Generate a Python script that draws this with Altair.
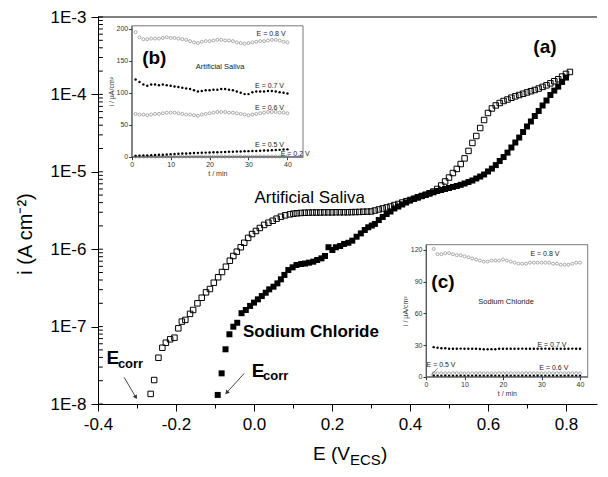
import altair as alt
import pandas as pd

FONT = "Liberation Sans"

# ---------------- main polarization curves (E in V vs ECS, i in A cm^-2) ----------------
sal_E = [-0.265, -0.256, -0.245, -0.235, -0.226, -0.215, -0.204, -0.194, -0.185, -0.176,
         -0.164, -0.156, -0.145, -0.134, -0.123, -0.113, -0.103, -0.092, -0.082, -0.072,
         -0.062, -0.053, -0.044, -0.034, -0.025, -0.015, -0.005, 0.005, 0.015, 0.026,
         0.037, 0.048, 0.058, 0.069, 0.080, 0.092, 0.101,
         0.11, 0.12, 0.13, 0.14, 0.15, 0.16, 0.17, 0.18, 0.19, 0.20,
         0.21, 0.22, 0.23, 0.24, 0.25, 0.26, 0.27, 0.28, 0.29,
         0.30, 0.31, 0.32, 0.33, 0.34, 0.35, 0.36, 0.37, 0.38, 0.39,
         0.40, 0.41, 0.42, 0.43, 0.44, 0.45, 0.46, 0.47, 0.48, 0.49,
         0.50, 0.51, 0.52, 0.53, 0.54, 0.55, 0.56, 0.57, 0.58, 0.59,
         0.60, 0.61, 0.62, 0.63, 0.64, 0.65, 0.66, 0.67, 0.68, 0.69,
         0.70, 0.71, 0.72, 0.73, 0.74, 0.75, 0.76, 0.77, 0.78, 0.79,
         0.80, 0.81]
sal_i = [1.35e-8, 2.04e-8, 3.96e-8, 5.33e-8, 6.19e-8, 6.85e-8, 7.19e-8, 9.5e-8, 1.16e-7, 1.22e-7,
         1.46e-7, 1.64e-7, 2.0e-7, 2.36e-7, 2.77e-7, 3.06e-7, 3.69e-7, 4.34e-7, 5.07e-7, 5.94e-7,
         7.1e-7, 8.17e-7, 9.29e-7, 1.06e-6, 1.21e-6, 1.40e-6, 1.57e-6, 1.72e-6, 1.88e-6, 2.06e-6,
         2.2e-6, 2.33e-6, 2.48e-6, 2.63e-6, 2.74e-6, 2.82e-6, 2.88e-6,
         2.91e-6, 2.94e-6, 2.96e-6, 2.97e-6, 2.98e-6, 2.98e-6, 2.98e-6, 2.99e-6, 2.99e-6, 2.99e-6,
         3.0e-6, 3.0e-6, 3.0e-6, 3.0e-6, 3.01e-6, 3.02e-6, 3.03e-6, 3.05e-6, 3.06e-6,
         3.07e-6, 3.16e-6, 3.26e-6, 3.36e-6, 3.46e-6, 3.56e-6, 3.72e-6, 3.84e-6, 4.01e-6, 4.16e-6,
         4.32e-6, 4.49e-6, 4.69e-6, 4.87e-6, 5.06e-6, 5.27e-6, 5.56e-6, 6.0e-6, 6.65e-6, 7.5e-6,
         8.43e-6, 9.64e-6, 1.09e-5, 1.26e-5, 1.49e-5, 1.86e-5, 2.36e-5, 2.9e-5, 3.68e-5, 4.67e-5,
         5.75e-5, 6.58e-5, 7.2e-5, 7.74e-5, 8.22e-5, 8.59e-5, 9.06e-5, 9.44e-5, 9.82e-5, 1.02e-4,
         1.06e-4, 1.10e-4, 1.14e-4, 1.19e-4, 1.25e-4, 1.31e-4, 1.39e-4, 1.48e-4, 1.57e-4, 1.70e-4,
         1.84e-4, 1.95e-4]

nacl_E = [-0.093, -0.083, -0.073, -0.063, -0.053, -0.043, -0.032, -0.021, -0.010, 0.000,
          0.010, 0.020, 0.030, 0.039, 0.050, 0.060, 0.069, 0.078, 0.088, 0.099,
          0.109, 0.121, 0.131, 0.141, 0.152, 0.162, 0.173, 0.182, 0.191, 0.201,
          0.210, 0.221, 0.231, 0.242, 0.252, 0.263, 0.274, 0.284, 0.293, 0.302,
          0.31, 0.32, 0.33, 0.34, 0.35, 0.36, 0.37, 0.38, 0.39, 0.40,
          0.41, 0.42, 0.43, 0.44, 0.45, 0.46, 0.47, 0.48, 0.49, 0.50,
          0.51, 0.52, 0.53, 0.54, 0.55, 0.56, 0.57, 0.58, 0.59, 0.60,
          0.61, 0.62, 0.63, 0.64, 0.65, 0.66, 0.67, 0.68, 0.69, 0.70,
          0.71, 0.72, 0.73, 0.74, 0.75, 0.76, 0.77, 0.78, 0.79, 0.80]
nacl_i = [1.31e-8, 2.49e-8, 5.09e-8, 7.96e-8, 9.97e-8, 1.12e-7, 1.49e-7, 1.64e-7, 1.85e-7, 2.04e-7,
          2.25e-7, 2.48e-7, 2.74e-7, 3.03e-7, 3.28e-7, 3.62e-7, 4.08e-7, 4.65e-7, 5.38e-7, 5.83e-7,
          6.25e-7, 6.44e-7, 6.53e-7, 6.7e-7, 6.9e-7, 7.25e-7, 7.62e-7, 8.17e-7, 1.06e-6, 9.77e-7,
          1.06e-6, 1.10e-6, 1.17e-6, 1.21e-6, 1.29e-6, 1.45e-6, 1.60e-6, 1.77e-6, 1.92e-6, 2.02e-6,
          2.12e-6, 2.38e-6, 2.61e-6, 2.85e-6, 3.07e-6, 3.36e-6, 3.56e-6, 3.78e-6, 4.01e-6, 4.26e-6,
          4.46e-6, 4.66e-6, 4.87e-6, 5.01e-6, 5.25e-6, 5.43e-6, 5.65e-6, 5.82e-6, 6.0e-6, 6.18e-6,
          6.37e-6, 6.56e-6, 6.79e-6, 7.06e-6, 7.38e-6, 7.72e-6, 8.19e-6, 8.69e-6, 9.23e-6, 1.01e-5,
          1.10e-5, 1.22e-5, 1.38e-5, 1.55e-5, 1.77e-5, 2.06e-5, 2.39e-5, 2.77e-5, 3.27e-5, 3.85e-5,
          4.47e-5, 5.26e-5, 6.11e-5, 7.19e-5, 8.34e-5, 9.82e-5, 1.12e-4, 1.26e-4, 1.45e-4, 1.65e-4]

# ---------------- inset (b): Artificial Saliva, i (uA/cm2) vs t (min) ----------------
tb = [1, 2, 3, 4, 5, 6, 7, 8, 9, 10, 11, 12, 13, 14, 15, 16, 17, 18, 19, 20,
      21, 22, 23, 24, 25, 26, 27, 28, 29, 30, 31, 32, 33, 34, 35, 36, 37, 38, 39, 40]
b_08 = [195, 187, 184, 184, 185, 185, 185, 186, 187, 186, 186, 185, 184, 183, 181, 179, 178, 180, 181, 181,
        182, 183, 183, 182, 182, 181, 179, 178, 177, 178, 179, 180, 181, 181, 182, 183, 183, 182, 180, 179]
b_07 = [121, 117, 113, 111, 113, 113, 112, 113, 112, 111, 110, 109, 108, 107, 106, 104, 102, 103, 104, 104,
        105, 105, 106, 106, 105, 104, 102, 100, 98, 98, 101, 102, 102, 102, 103, 103, 102, 101, 100, 99]
b_06 = [67, 66, 66, 65, 66, 67, 67, 68, 69, 69, 69, 68, 67, 66, 66, 65, 64, 66, 67, 68,
        69, 70, 70, 70, 69, 69, 68, 67, 66, 65, 66, 67, 68, 69, 70, 70, 70, 69, 69, 68]
b_05 = [1.0, 1.4, 1.8, 2.0, 2.3, 2.7, 3.0, 3.2, 3.6, 4.0, 4.2, 4.6, 5.0, 5.1, 5.5, 5.8, 6.0, 6.1, 6.4, 6.6,
        6.9, 7.0, 7.2, 7.5, 7.6, 7.8, 8.1, 8.2, 8.4, 8.7, 8.8, 9.0, 9.4, 9.6, 9.8, 10.2, 10.5, 10.7, 11.2, 11.5]
b_02 = [0.4, 0.4, 0.3, 0.4, 0.3, 0.3, 0.4, 0.3, 0.3, 0.4, 0.3, 0.3, 0.4, 0.3, 0.3, 0.3, 0.4, 0.3, 0.3, 0.4,
        0.3, 0.3, 0.4, 0.3, 0.3, 0.3, 0.4, 0.3, 0.3, 0.4, 0.3, 0.3, 0.4, 0.3, 0.3, 0.3, 0.4, 0.3, 0.3, 0.4]

# ---------------- inset (c): Sodium Chloride ----------------
tc = [2, 3, 4, 5, 6, 7, 8, 9, 10, 11, 12, 13, 14, 15, 16, 17, 18, 19, 20, 21,
      22, 23, 24, 25, 26, 27, 28, 29, 30, 31, 32, 33, 34, 35, 36, 37, 38, 39, 40]
c_08 = [121, 116, 116, 117, 117, 116, 115, 115, 114, 113, 112, 111, 110, 109, 109, 110, 110, 110, 111, 110,
        109, 108, 107, 107, 107, 108, 108, 108, 108, 108, 108, 107, 107, 106, 106, 106, 107, 108, 108]
c_07 = [28.0, 27.5, 27.0, 27.0, 26.5, 26.5, 26.5, 26.6, 26.5, 26.4, 26.5, 26.5, 26.3, 26.0, 26.0, 26.1, 26.0, 26.4, 26.5, 26.5,
        26.5, 26.4, 26.5, 26.6, 26.5, 26.5, 26.4, 26.5, 26.5, 26.6, 26.5, 26.5, 26.4, 26.5, 26.5, 26.5, 26.6, 26.5, 26.5]
c_06 = [3.3, 3.4, 3.3, 3.3, 3.2, 3.3, 3.4, 3.3, 3.3, 3.2, 3.3, 3.3, 3.4, 3.3, 3.3, 3.2, 3.3, 3.3, 3.4, 3.3,
        3.3, 3.2, 3.3, 3.3, 3.4, 3.3, 3.3, 3.2, 3.3, 3.3, 3.4, 3.3, 3.3, 3.2, 3.3, 3.3, 3.4, 3.3, 3.3]
c_05 = [0.9, 0.8, 0.8, 0.9, 0.8, 0.8, 0.8, 0.9, 0.8, 0.8, 0.8, 0.9, 0.8, 0.8, 0.8, 0.9, 0.8, 0.8, 0.8, 0.9,
        0.8, 0.8, 0.8, 0.9, 0.8, 0.8, 0.8, 0.9, 0.8, 0.8, 0.8, 0.9, 0.8, 0.8, 0.8, 0.9, 0.8, 0.8, 0.8]

# axis tick positions
x_ticks = [-0.4, -0.3, -0.2, -0.1, 0.0, 0.1, 0.2, 0.3, 0.4, 0.5, 0.6, 0.7, 0.8]
y_ticks = [m * 10.0 ** e for e in range(-8, -3) for m in range(1, 10)] + [1e-3]

# ---------------- layout ----------------
W, H = 499, 387
one = pd.DataFrame({"k": [0]})

xs = alt.Scale(domain=[-0.4, 0.8795], nice=False, zero=False)
ys = alt.Scale(type="log", domain=[1e-8, 1e-3], nice=False)

XMAJ = "abs(datum.value*5 - round(datum.value*5)) < 0.001"
YMAJ = "abs(log(datum.value)/LN10 - round(log(datum.value)/LN10)) < 0.001"

x_axis = alt.Axis(
    orient="bottom", values=x_ticks, title=None, grid=False,
    labelExpr=XMAJ + " ? replace(format(datum.value, '.1f'), '\u2212', '-') : ''",
    tickSize={"condition": {"test": XMAJ, "value": 7}, "value": 4},
    labelFont=FONT, labelFontSize=17, labelColor="black", tickColor="black",
    domainColor="black", labelPadding=5, labelOverlap=False, labelFlush=False,
)
y_axis = alt.Axis(
    orient="left", values=y_ticks, title=None, grid=False,
    labelExpr=YMAJ + " ? '1E' + round(log(datum.value)/LN10) : ''",
    tickSize={"condition": {"test": YMAJ, "value": 7}, "value": 0},
    labelFont=FONT, labelFontSize=17, labelColor="black", tickColor="black",
    domainColor="black", labelPadding=5, labelOverlap=False, labelFlush=False,
)

X = alt.X("E:Q", scale=xs, axis=x_axis)
Y = alt.Y("i:Q", scale=ys, axis=y_axis)

sal_df = pd.DataFrame({"E": sal_E, "i": sal_i})
nacl_df = pd.DataFrame({"E": nacl_E, "i": nacl_i})

sal = alt.Chart(sal_df).mark_point(shape="square", filled=False, color="black",
                                   size=30, strokeWidth=1, opacity=1).encode(x=X, y=Y)
nacl = alt.Chart(nacl_df).mark_point(shape="square", filled=True, color="black",
                                     size=36, opacity=1).encode(x=X, y=Y)

top_rule = alt.Chart(one).mark_rule(color="black", strokeWidth=1).encode(y=alt.datum(1e-3))

# inward-pointing ticks along the left axis (Origin style)
tick_df = pd.DataFrame({"i": y_ticks})
inner_ticks = alt.Chart(tick_df).mark_rule(color="black", strokeWidth=1).encode(
    x=alt.datum(-0.4), x2=alt.datum(-0.3875), y=alt.Y("i:Q", scale=ys, axis=y_axis))


def txt(label, e, i, size, bold=False, align="center", baseline="middle"):
    return alt.Chart(one).mark_text(
        text=label, font=FONT, fontSize=size, fontWeight="bold" if bold else "normal",
        align=align, baseline=baseline, color="black",
    ).encode(x=alt.datum(e), y=alt.datum(i))


def arrow(e1, i1, e2, i2, ang):
    line = alt.Chart(one).mark_rule(color="#333", strokeWidth=0.9).encode(
        x=alt.datum(e1), y=alt.datum(i1), x2=alt.datum(e2), y2=alt.datum(i2))
    head = alt.Chart(one).mark_point(shape="triangle-up", filled=True, color="#333",
                                     size=22, angle=ang, opacity=1).encode(
        x=alt.datum(e2), y=alt.datum(i2))
    return [line, head]


main_ann = [
    txt("(a)", 0.746, 4.09e-4, 19, bold=True),
    txt("Artificial Saliva", 0.143, 4.6e-6, 17),
    txt("Sodium Chloride", 0.146, 8.5e-8, 17, bold=True),
    txt("E", -0.378, 3.89e-8, 19, bold=True, align="left"),
    txt("corr", -0.349, 3.25e-8, 13, bold=True, align="left"),
    txt("E", -0.006, 2.69e-8, 19, bold=True, align="left"),
    txt("corr", 0.023, 2.28e-8, 13, bold=True, align="left"),
] + arrow(-0.333, 2.21e-8, -0.303, 1.22e-8, 150) + arrow(-0.025, 2.49e-8, -0.070, 1.40e-8, 222)

axis_titles = [
    alt.Chart(one).mark_text(text="E (V", font=FONT, fontSize=19, align="left",
                             baseline="alphabetic").encode(x=alt.value(215), y=alt.value(443)),
    alt.Chart(one).mark_text(text="ECS", font=FONT, fontSize=15, align="left",
                             baseline="alphabetic").encode(x=alt.value(252), y=alt.value(448)),
    alt.Chart(one).mark_text(text=")", font=FONT, fontSize=19, align="left",
                             baseline="alphabetic").encode(x=alt.value(283), y=alt.value(443)),
    alt.Chart(one).mark_text(text="i (A cm\u207b\u00b2)", font=FONT, fontSize=20, angle=270,
                             align="center", baseline="middle").encode(x=alt.value(-72), y=alt.value(217)),
]

main = alt.layer(sal, nacl, top_rule, inner_ticks, *main_ann, *axis_titles)

# ---------------- insets ----------------
INS = "#333333"


def inset_axes(xdom, xrange, ydom, yrange, xvals, yvals):
    xo = -(H - yrange[0])
    yo = -xrange[0]
    xa = alt.Axis(orient="bottom", offset=xo, values=xvals, title="t / min", grid=False,
                  labelFont=FONT, labelFontSize=7, labelColor=INS, labelPadding=1,
                  titleFont=FONT, titleFontSize=7, titleFontWeight="normal", titleColor=INS,
                  titlePadding=2, tickSize=3, tickColor=INS, domainColor=INS, domainWidth=0.8,
                  labelFlush=False)
    ya = alt.Axis(orient="left", offset=yo, values=yvals, title="i / \u00b5A/cm\u00b2", grid=False,
                  labelFont=FONT, labelFontSize=7, labelColor=INS, labelPadding=1,
                  titleFont=FONT, titleFontSize=7, titleFontWeight="normal", titleColor=INS,
                  titlePadding=2, tickSize=3, tickColor=INS, domainColor=INS, domainWidth=0.8,
                  labelFlush=False)
    sx = alt.Scale(domain=xdom, range=xrange, nice=False, zero=False)
    sy = alt.Scale(domain=ydom, range=yrange, nice=False, zero=False)
    return alt.X("t:Q", scale=sx, axis=xa), alt.Y("v:Q", scale=sy, axis=ya)


def series(t, v, Xi, Yi, open_):
    df = pd.DataFrame({"t": t, "v": v})
    if open_:
        m = alt.Chart(df).mark_point(shape="circle", filled=False, color="#8a8a8a",
                                     size=9, strokeWidth=0.7, opacity=1)
    else:
        m = alt.Chart(df).mark_point(shape="circle", filled=True, color="black",
                                     size=6, opacity=1)
    return m.encode(x=Xi, y=Yi)


def itxt(label, t, v, size=7, bold=False):
    return alt.Chart(one).mark_text(
        text=label, font=FONT, fontSize=size, fontWeight="bold" if bold else "normal",
        align="center", baseline="middle", color="#222" if not bold else "black",
    ).encode(x=alt.datum(t), y=alt.datum(v))


def frame(x0, x1, y0, y1):
    return alt.Chart(one).mark_rect(fillOpacity=0, stroke="#555", strokeWidth=0.8).encode(
        x=alt.datum(x0), x2=alt.datum(x1), y=alt.datum(y0), y2=alt.datum(y1))


Xb, Yb = inset_axes([0, 44], [33.7, 205.0], [0, 205], [139.7, 8.8],
                    [0, 10, 20, 30, 40], [0, 50, 100, 150, 200])
inset_b = alt.layer(
    series(tb, b_08, Xb, Yb, True),
    series(tb, b_07, Xb, Yb, False),
    series(tb, b_06, Xb, Yb, True),
    series(tb, b_02, Xb, Yb, True),
    series(tb, b_05, Xb, Yb, False),
    frame(0, 44, 0, 205),
    itxt("E = 0.8 V", 35.8, 192),
    itxt("(b)", 5.8, 155, size=19, bold=True),
    itxt("Artificial Saliva", 22.7, 140, size=7.5),
    itxt("E = 0.7 V", 35.4, 110.6),
    itxt("E = 0.6 V", 35.4, 76.3),
    itxt("E = 0.5 V", 35.4, 18.3),
    itxt("E = 0.2 V", 42.0, 4.4),
)

Xc, Yc = inset_axes([0, 42], [328.0, 489.7], [0, 125], [359.7, 227.7],
                    [0, 10, 20, 30, 40], [0, 30, 60, 90, 120])
inset_c = alt.layer(
    series(tc, c_08, Xc, Yc, True),
    series(tc, c_07, Xc, Yc, False),
    series(tc, c_06, Xc, Yc, True),
    series(tc, c_05, Xc, Yc, False),
    frame(0, 42, 0, 125),
    itxt("E = 0.8 V", 30.9, 115.9),
    itxt("(c)", 4.4, 90, size=19, bold=True),
    itxt("Sodium Chloride", 20.8, 71, size=7.5),
    itxt("E = 0.7 V", 32.7, 30.2),
    itxt("E = 0.6 V", 33.2, 8.3),
    itxt("E = 0.5 V", 3.9, 11.5),
    alt.Chart(one).mark_rule(color="#333", strokeWidth=0.6).encode(
        x=alt.datum(3.0), y=alt.datum(8.0), x2=alt.datum(1.3), y2=alt.datum(1.2)),
)

chart = alt.layer(main, inset_b, inset_c).resolve_scale(
    x="independent", y="independent"
).properties(
    width=W, height=H,
    padding={"left": 90, "top": 9, "right": 3, "bottom": 63},
    autosize=alt.AutoSizeParams(type="none"),
    background="white",
).configure_view(stroke=None)

chart.save("out.html", embed_options={"renderer": "svg", "actions": False})
